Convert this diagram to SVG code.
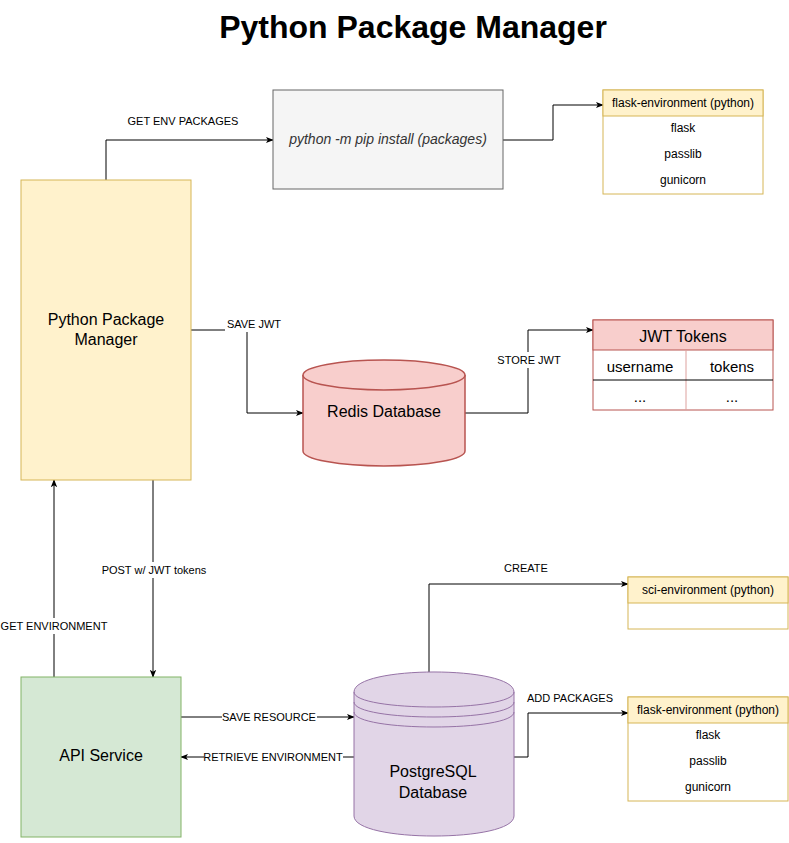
<svg xmlns="http://www.w3.org/2000/svg" width="789" height="843" viewBox="0 0 789 843">
<defs>
<marker id="arr" viewBox="0 0 10 10" refX="9" refY="5" markerWidth="8" markerHeight="8" markerUnits="userSpaceOnUse" orient="auto">
<path d="M0,1 L10,5 L0,9 L2.5,5 Z" fill="#000"/>
</marker>
<style>
text{font-family:"Liberation Sans",Arial,sans-serif;fill:#000;text-anchor:middle;dominant-baseline:central}
.lbl{font-size:11px}
.n16{font-size:16px}
.n12{font-size:12px}
.edge{fill:none;stroke:#000;stroke-width:1}
.yel{fill:#fff2cc;stroke:#d6b656;stroke-width:1}
.wb{fill:#fff;stroke:#d6b656;stroke-width:1}
.red{fill:#f8cecc;stroke:#b85450;stroke-width:1.5}
.bg{fill:#fff}
</style>
</defs>
<rect width="789" height="843" fill="#fff"/>
<text x="413" y="27" style="font-size:32px;font-weight:bold">Python Package Manager</text>

<g id="edges">
<path class="edge" d="M106,180 L106,140 L273,140" marker-end="url(#arr)"/>
<text class="lbl" x="183" y="121">GET ENV PACKAGES</text>
<path class="edge" d="M503,140 L553,140 L553,105 L603,105" marker-end="url(#arr)"/>
<path class="edge" d="M191,330 L247,330 L247,413 L303,413" marker-end="url(#arr)"/>
<rect class="bg" x="225" y="316" width="58" height="16"/>
<text class="lbl" x="254" y="324">SAVE JWT</text>
<path class="edge" d="M465,413 L528,413 L528,330 L593,330" marker-end="url(#arr)"/>
<rect class="bg" x="497" y="352" width="64" height="16"/>
<text class="lbl" x="529" y="360">STORE JWT</text>
<path class="edge" d="M54,677 L54,480" marker-end="url(#arr)"/>
<rect class="bg" x="0" y="618" width="108" height="16"/>
<text class="lbl" x="54" y="626">GET ENVIRONMENT</text>
<path class="edge" d="M153,480 L153,677" marker-end="url(#arr)"/>
<rect class="bg" x="102" y="562" width="104" height="16"/>
<text class="lbl" x="154" y="570">POST w/ JWT tokens</text>
<path class="edge" d="M181,717 L354,717" marker-end="url(#arr)"/>
<rect class="bg" x="222" y="710" width="95" height="15"/>
<text class="lbl" x="269" y="717">SAVE RESOURCE</text>
<path class="edge" d="M354,757 L181,757" marker-end="url(#arr)"/>
<rect class="bg" x="204" y="750" width="139" height="15"/>
<text class="lbl" x="273" y="757">RETRIEVE ENVIRONMENT</text>
<path class="edge" d="M429,672 L429,584 L628,584" marker-end="url(#arr)"/>
<text class="lbl" x="526" y="568">CREATE</text>
<path class="edge" d="M514,757 L528,757 L528,713 L628,713" marker-end="url(#arr)"/>
<text class="lbl" x="570" y="698">ADD PACKAGES</text>
</g>

<g id="ppm">
<rect class="yel" x="21" y="180" width="170" height="300"/>
<text class="n16" x="106" y="319">Python Package</text>
<text class="n16" x="106" y="339">Manager</text>
</g>

<g id="pip">
<rect x="273" y="90" width="230" height="99" fill="#f5f5f5" stroke="#666666"/>
<text x="388" y="139" style="font-size:14px;font-style:italic;fill:#333">python -m pip install (packages)</text>
</g>

<g id="flask-env-1">
<rect class="wb" x="603" y="90" width="160" height="104"/>
<rect class="yel" x="603" y="90" width="160" height="26"/>
<text class="n12" x="683" y="103">flask-environment (python)</text>
<text class="n12" x="683" y="128">flask</text>
<text class="n12" x="683" y="154">passlib</text>
<text class="n12" x="683" y="180">gunicorn</text>
</g>

<g id="redis">
<path class="red" d="M303,375 A81,15 0 0 1 465,375 L465,451 A81,15 0 0 1 303,451 Z"/>
<path class="red" fill="none" d="M303,375 A81,15 0 0 0 465,375"/>
<text class="n16" x="384" y="411">Redis Database</text>
</g>

<g id="jwt-table">
<rect x="593" y="320" width="180" height="90" fill="#fff" stroke="#b85450"/>
<rect x="593" y="320" width="180" height="30" fill="#f8cecc" stroke="#b85450"/>
<line x1="686" y1="350" x2="686" y2="410" stroke="#dda19e"/>
<line x1="593" y1="380" x2="773" y2="380" stroke="#000"/>
<text class="n16" x="683" y="336">JWT Tokens</text>
<text x="640" y="366" style="font-size:15px">username</text>
<text x="732" y="366" style="font-size:15px">tokens</text>
<text x="640" y="396" style="font-size:15px">...</text>
<text x="732" y="396" style="font-size:15px">...</text>
</g>

<g id="api">
<rect x="21" y="677" width="160" height="160" fill="#d5e8d4" stroke="#82b366"/>
<text class="n16" x="101" y="755">API Service</text>
</g>

<g id="postgres">
<path d="M354,692 C354,665.3 514,665.3 514,692 L514,816 C514,842.7 354,842.7 354,816 Z" fill="#e1d5e7" stroke="#9673a6"/>
<path d="M354,692 C354,712 514,712 514,692 M354,702 C354,722 514,722 514,702 M354,712 C354,732 514,732 514,712" fill="none" stroke="#9673a6"/>
<text class="n16" x="433" y="771">PostgreSQL</text>
<text class="n16" x="433" y="792">Database</text>
</g>

<g id="sci-env">
<rect class="wb" x="628" y="577" width="160" height="52"/>
<rect class="yel" x="628" y="577" width="160" height="26"/>
<text class="n12" x="708" y="590">sci-environment (python)</text>
</g>

<g id="flask-env-2">
<rect class="wb" x="628" y="697" width="160" height="104"/>
<rect class="yel" x="628" y="697" width="160" height="26"/>
<text class="n12" x="708" y="710">flask-environment (python)</text>
<text class="n12" x="708" y="735">flask</text>
<text class="n12" x="708" y="761">passlib</text>
<text class="n12" x="708" y="787">gunicorn</text>
</g>
</svg>
